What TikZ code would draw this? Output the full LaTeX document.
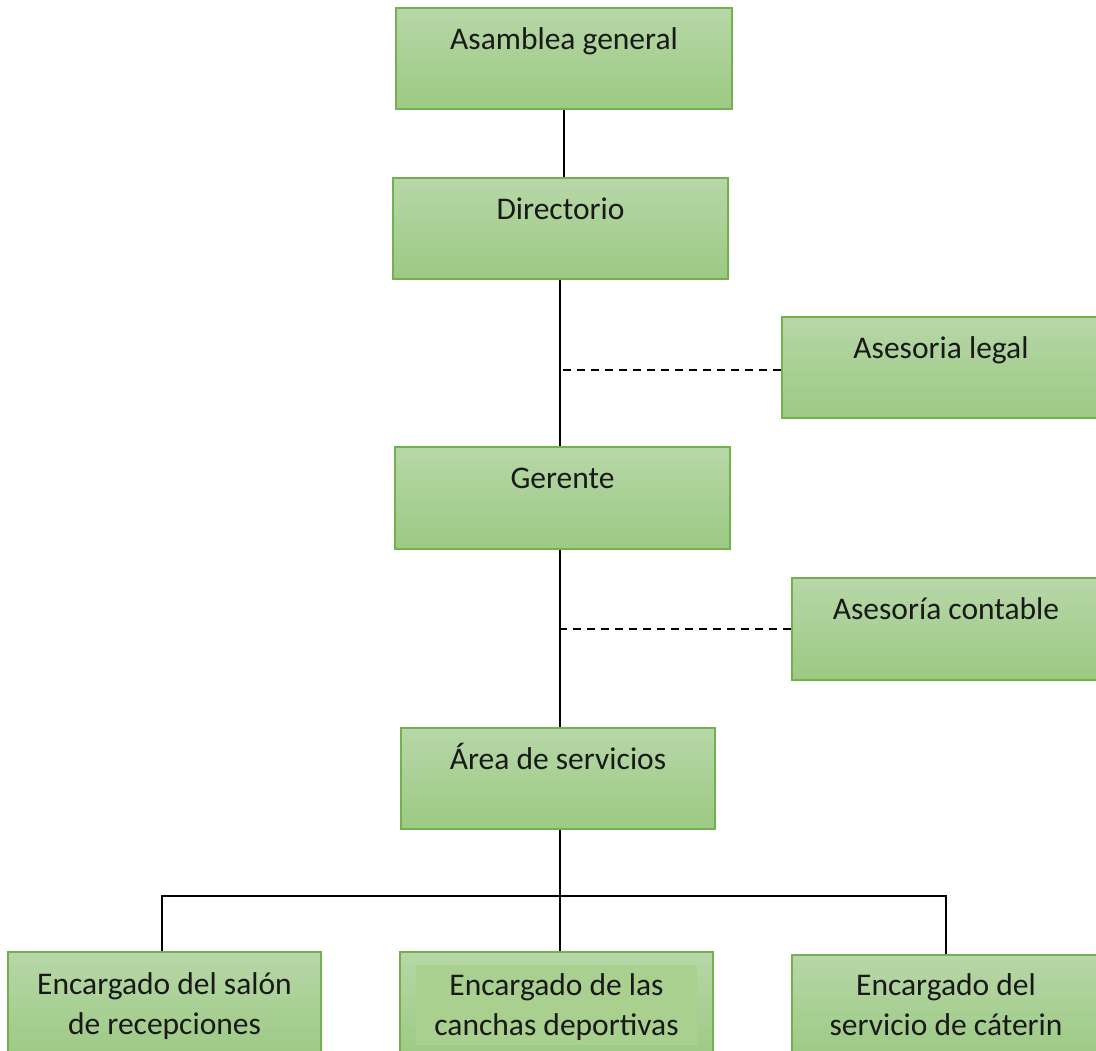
\documentclass[tikz,border=0pt]{standalone}
\usepackage{fontspec}
\setmainfont{Carlito}
\definecolor{gtop}{HTML}{B7D7A8}
\definecolor{gbot}{HTML}{9CC982}
\definecolor{gline}{HTML}{74B04E}
\definecolor{ginner}{HTML}{A9D08E}
\begin{document}
\begin{tikzpicture}[x=1pt,y=-1pt,
  box/.style={draw=gline, line width=1.2pt, top color=gtop, bottom color=gbot, inner sep=0pt},
  txt/.style={anchor=base, inner sep=0pt, font=\fontsize{31.5}{40}\selectfont, align=center, text=black!90},
  conn/.style={line width=2.2pt, black},
  dconn/.style={line width=2pt, black, dash pattern=on 8pt off 6pt}]
\useasboundingbox (0,0) rectangle (1096,1051);
\clip (0,0) rectangle (1096,1051);
% boxes
\node[box, minimum width=336, minimum height=101] (a) at (564,58.5) {};
\node[box, minimum width=335, minimum height=101] (d) at (560.5,228.5) {};
\node[box, minimum width=318, minimum height=101] (legal) at (941,367.5) {};
\node[box, minimum width=335, minimum height=102] (g) at (562.5,498) {};
\node[box, minimum width=308, minimum height=102] (cont) at (946,629) {};
\node[box, minimum width=314, minimum height=101] (area) at (558,778.5) {};
\node[box, minimum width=313, minimum height=108] (e1) at (164.5,1006) {};
\node[box, minimum width=313, minimum height=108] (e2) at (556.5,1006) {};
\node[fill=ginner, inner sep=0pt, minimum width=281, minimum height=80] (e2in) at (556.5,1005) {};
\node[box, minimum width=308, minimum height=105] (e3) at (946,1007.5) {};
% texts
\node[txt] (ta) at ([yshift=-42]a.north) {Asamblea general};
\node[txt] (td) at ([yshift=-42]d.north) {Directorio};
\node[txt] (tl) at ([yshift=-42]legal.north) {Asesoria legal};
\node[txt] (tg) at ([yshift=-42]g.north) {Gerente};
\node[txt] (tc) at ([yshift=-42]cont.north) {Asesoría contable};
\node[txt] (tar) at ([yshift=-42]area.north) {Área de servicios};
\node[txt] (t1) at ([yshift=-43]e1.north) {Encargado del salón};
\node[txt] (t1b) at ([yshift=-83]e1.north) {de recepciones};
\node[txt] (t2) at ([yshift=-44]e2.north) {Encargado de las};
\node[txt] (t2b) at ([yshift=-84]e2.north) {canchas deportivas};
\node[txt] (t3) at ([yshift=-41]e3.north) {Encargado del};
\node[txt] (t3b) at ([yshift=-81]e3.north) {servicio de cáterin};
% connectors
\draw[conn] (a.south) -- (a.south |- d.north);
\draw[conn] ([xshift=-0.5]d.south) -- ([xshift=-0.5]d.south |- g.north);
\draw[dconn] ([yshift=-2.5]legal.west) -- ([yshift=-2.5]legal.west -| d.south);
\draw[conn] ([xshift=-2.5]g.south) -- ([xshift=-2.5]g.south |- area.north);
\draw[dconn] (cont.west) -- (cont.west -| area.south);
\coordinate (bus) at (560,896);
\draw[conn] ([xshift=2]area.south) -- ([xshift=2]area.south |- e2.north);
\draw[conn] ([xshift=-2.5]e1.north) -- ([xshift=-2.5]e1.north |- bus) -- (bus -| e3.north) -- (e3.north);
\end{tikzpicture}
\end{document}
